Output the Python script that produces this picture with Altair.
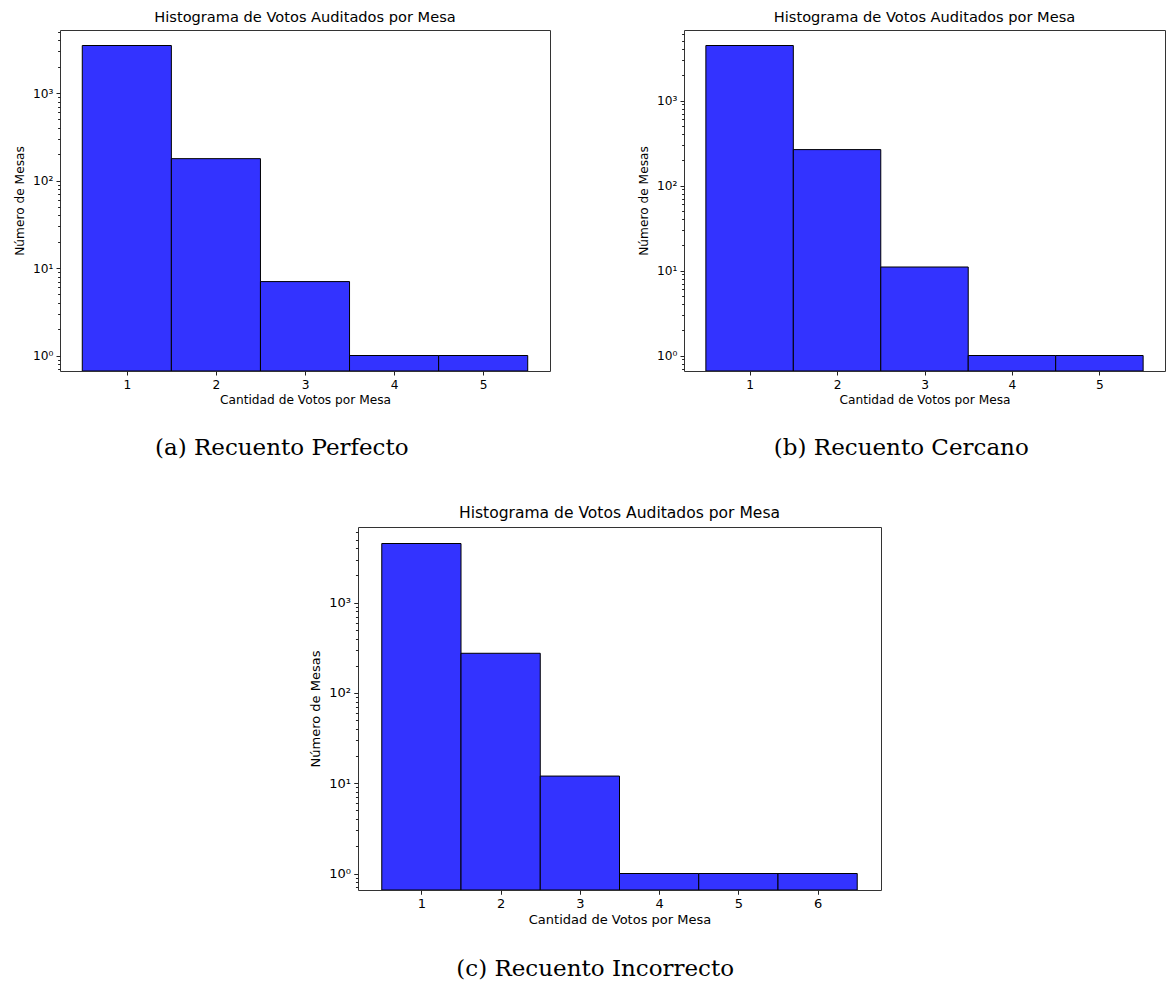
import altair as alt
import numpy as np
import pandas as pd

# ---- data ----
votos_a = [1, 2, 3, 4, 5]
mesas_a = [3500, 178, 7, 1, 1]

votos_b = [1, 2, 3, 4, 5]
mesas_b = [4450, 265, 11, 1, 1]

votos_c = [1, 2, 3, 4, 5, 6]
mesas_c = [4520, 275, 12, 1, 1, 1]

titulo = "Histograma de Votos Auditados por Mesa"
xlabel = "Cantidad de Votos por Mesa"
ylabel = "Número de Mesas"
captions = ["(a) Recuento Perfecto", "(b) Recuento Cercano", "(c) Recuento Incorrecto"]

major = [1, 10, 100, 1000]
sup = {1: "10⁰", 10: "10¹", 100: "10²", 1000: "10³"}


def log_domain(vals):
    lo, hi = np.log10(min(vals)), np.log10(max(vals))
    m = 0.05 * (hi - lo)
    return [float(10 ** (lo - m)), float(10 ** (hi + m))]


def lin_domain(vals):
    lo, hi = min(vals) - 0.5, max(vals) + 0.5
    m = 0.05 * (hi - lo)
    return [lo - m, hi + m]


def ticks_in(dom):
    out = []
    for k in range(-1, 5):
        for j in range(1, 10):
            v = round(j * 0.1, 1) if k < 0 else j * 10 ** k
            if dom[0] <= v <= dom[1]:
                out.append(v)
    return out


def panel(votos, mesas, w, h, s, caption, cap_offset):
    df = pd.DataFrame({"votos": votos, "mesas": mesas})
    ydom = log_domain(mesas)
    xdom = lin_domain(votos)
    yvals = ticks_in(ydom)
    label_expr = " : ".join(
        f"datum.value == {v} ? '{sup[v]}'" for v in major
    ) + " : ''"
    major_test = " || ".join(f"datum.value == {v}" for v in major)
    fs = 12.2 * s
    bars = (
        alt.Chart(df)
        .transform_calculate(x0="datum.votos - 0.5", x1="datum.votos + 0.5")
        .mark_bar(fill="#3333ff", stroke="black", strokeWidth=1, clip=True)
        .encode(
            x=alt.X(
                "x0:Q",
                scale=alt.Scale(domain=xdom, nice=False, zero=False),
                axis=alt.Axis(
                    values=votos, format="d", title=xlabel, grid=False,
                    domain=False, tickSize=4 * s, tickColor="#222",
                    labelPadding=3 * s, labelFontSize=fs, titleFontSize=fs,
                    labelFont="DejaVu Sans", titleFont="DejaVu Sans",
                    labelColor="black", titleColor="black",
                    titleFontWeight="normal", titlePadding=3 * s,
                ),
            ),
            x2="x1:Q",
            y=alt.Y(
                "mesas:Q",
                scale=alt.Scale(type="log", domain=ydom, nice=False),
                axis=alt.Axis(
                    values=yvals, labelExpr=label_expr, title=ylabel,
                    grid=False, domain=False, labelOverlap=False,
                    tickSize={"condition": {"test": major_test, "value": 4 * s}, "value": 2.4 * s},
                    labelFontSize={"condition": {"test": major_test, "value": fs}, "value": 0},
                    tickColor="#222", labelPadding=3 * s,
                    titleFontSize=fs,
                    labelFont="DejaVu Sans", titleFont="DejaVu Sans",
                    labelColor="black", titleColor="black",
                    titleFontWeight="normal", titlePadding=6 * s,
                ),
            ),
            y2=alt.value(h),
        )
        .properties(
            width=w,
            height=h,
            title=alt.TitleParams(
                titulo, fontSize=14.6 * s, font="DejaVu Sans", fontWeight="normal",
                color="black", frame="group", anchor="middle", offset=5 * s,
            ),
        )
    )
    return alt.vconcat(
        bars,
        title=alt.TitleParams(
            caption, orient="bottom", font="DejaVu Serif", fontSize=23,
            fontWeight="normal", color="black", anchor="middle", offset=cap_offset,
        ),
    )


pa = panel(votos_a, mesas_a, 490, 341, 1.0, captions[0], 31)
pb = panel(votos_b, mesas_b, 481, 341, 1.0, captions[1], 31)
pc = panel(votos_c, mesas_c, 523, 363, 1.066, captions[2], 31)

spacer = (
    alt.Chart(pd.DataFrame({"v": [0]}))
    .mark_point(opacity=0)
    .properties(width=247, height=10, view=alt.ViewBackground(stroke="transparent"))
)

top = alt.hconcat(pa, pb, spacing=86)
bottom = alt.hconcat(spacer, pc, spacing=0)
chart = (
    alt.vconcat(top, bottom, spacing=45)
    .properties(padding={"left": 5, "top": 1, "right": 0, "bottom": 0}, background="white")
    .configure_view(stroke="#333", strokeWidth=1)
)

chart.save("out.html", embed_options={"renderer": "svg", "actions": False})
